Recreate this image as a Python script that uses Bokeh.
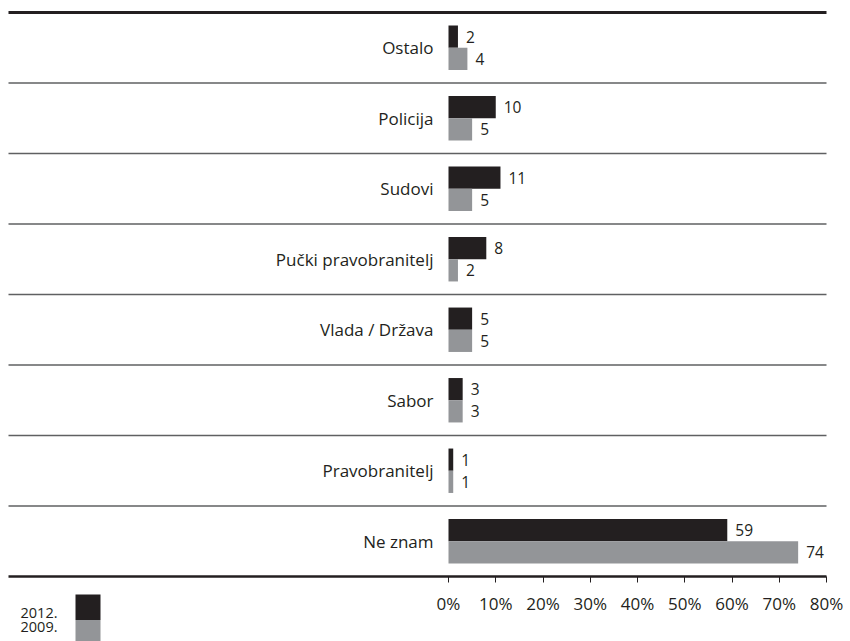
import numpy as np
from bokeh.plotting import figure
from bokeh.models import ColumnDataSource, Range1d, FixedTicker, PrintfTickFormatter
from bokeh.transform import dodge
from bokeh.core.properties import value
from bokeh.embed import file_html
from bokeh.resources import INLINE

# ---- data ----
categories = ["Ostalo", "Policija", "Sudovi", "Pučki pravobranitelj",
              "Vlada / Država", "Sabor", "Pravobranitelj", "Ne znam"]
values_2012 = [2, 10, 11, 8, 5, 3, 1, 59]
values_2009 = [4, 5, 5, 2, 5, 3, 1, 74]
series_labels = ["2012.", "2009."]
x_ticks = [0, 10, 20, 30, 40, 50, 60, 70, 80]

# ---- style / layout ----
FONT = "Open Sans"
DARK = "#231f20"
GREY = "#939598"
RULE = "#5f6062"

W, H = 850, 641
ZERO_PX = 448              # canvas x of 0 %
PX_PER_X = 378 / 80.0      # pixels per percent
TOP_PX = 12                # canvas y of the top rule
PX_PER_ROW = 70.5
LINE_LEFT_PX = 8

n = len(categories)
pos = np.arange(n)
src = ColumnDataSource(dict(y=pos, cat=categories, v12=values_2012, v09=values_2009,
                            l12=[str(v) for v in values_2012], l09=[str(v) for v in values_2009]))

x_lo = -ZERO_PX / PX_PER_X
x_hi = (W - ZERO_PX) / PX_PER_X
y_top = -0.5 - TOP_PX / PX_PER_ROW
y_bot = -0.5 + (H - TOP_PX) / PX_PER_ROW
x_line_left = (LINE_LEFT_PX - ZERO_PX) / PX_PER_X
x_max = x_ticks[-1]

p = figure(width=W, height=H,
           x_range=Range1d(x_lo, x_hi), y_range=Range1d(y_bot, y_top),
           output_backend="svg", toolbar_location=None,
           min_border_left=0, min_border_right=0, min_border_top=0, min_border_bottom=0)
p.outline_line_color = None
p.background_fill_color = "white"
p.border_fill_color = "white"
p.xgrid.visible = False
p.ygrid.visible = False
p.yaxis.visible = False

# rules: top thick rule + separators between categories
bounds = np.concatenate([[-0.5], pos[:-1] + 0.5])
rules = ColumnDataSource(dict(y=bounds,
                              w=[3] + [1.5] * (len(bounds) - 1),
                              c=[DARK] + [RULE] * (len(bounds) - 1)))
p.segment(x0=x_line_left, x1=x_max, y0="y", y1="y", line_width="w", line_color="c",
          source=rules)

BAR_H = 0.315
p.hbar(y=dodge("y", -BAR_H / 2), left=0, right="v12", height=BAR_H, source=src,
       fill_color=DARK, line_color=None)
p.hbar(y=dodge("y", BAR_H / 2), left=0, right="v09", height=BAR_H, source=src,
       fill_color=GREY, line_color=None)

# value labels
for col, lab, off in (("v12", "l12", -BAR_H / 2), ("v09", "l09", BAR_H / 2)):
    p.text(x=col, y=dodge("y", off), text=lab, source=src, x_offset=8,
           text_font=value(FONT), text_font_size="15.5px", text_color=DARK,
           text_baseline="middle", text_align="left")

# category labels
p.text(x=0, y="y", text="cat", source=src, x_offset=-15,
       text_font=value(FONT), text_font_size="17px", text_color=DARK,
       text_baseline="middle", text_align="right")

# x axis drawn on the bottom rule
ax = p.xaxis[0]
ax.fixed_location = n - 0.5
ax.bounds = (x_line_left, x_max)
ax.ticker = FixedTicker(ticks=x_ticks)
ax.formatter = PrintfTickFormatter(format="%d%%")
ax.axis_line_color = DARK
ax.axis_line_width = 2.5
ax.major_tick_in = 0
ax.major_tick_out = 6
ax.major_tick_line_color = DARK
ax.major_tick_line_width = 1
ax.minor_tick_out = 0
ax.minor_tick_in = 0
ax.major_label_standoff = 9
ax.major_label_text_font = FONT
ax.major_label_text_font_size = "17px"
ax.major_label_text_color = DARK

# legend (label left of swatch)
base = n - 0.5
AX_PX = TOP_PX + n * PX_PER_ROW
sw_left = (75 - ZERO_PX) / PX_PER_X
sw_right = (100 - ZERO_PX) / PX_PER_X
leg = ColumnDataSource(dict(
    label=series_labels,
    color=[DARK, GREY],
    top=[base + (594 - AX_PX) / PX_PER_ROW, base + (619.5 - AX_PX) / PX_PER_ROW],
    bottom=[base + (619.5 - AX_PX) / PX_PER_ROW, y_bot],
    ty=[base + (612 - AX_PX) / PX_PER_ROW, base + (626 - AX_PX) / PX_PER_ROW],
))
p.quad(left=sw_left, right=sw_right, top="top", bottom="bottom", fill_color="color",
       line_color=None, source=leg)
p.text(x=sw_left, y="ty", text="label", source=leg, x_offset=-18,
       text_font=value(FONT), text_font_size="14.5px", text_color=DARK,
       text_baseline="middle", text_align="right")

open("out.html", "w").write(file_html(p, INLINE))
